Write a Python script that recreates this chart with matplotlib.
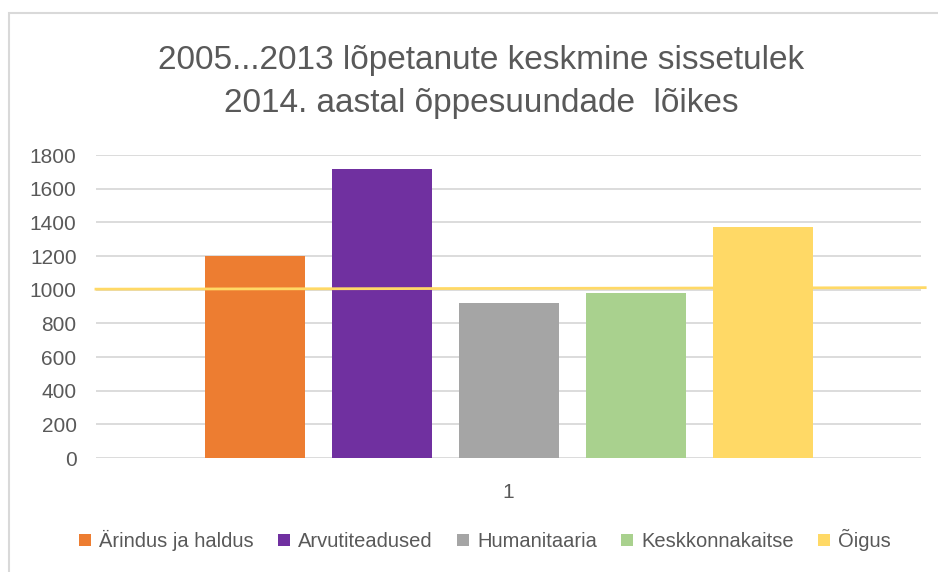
import matplotlib.pyplot as plt
from matplotlib.patches import Rectangle

plt.rcParams['font.family'] = ['Liberation Sans', 'DejaVu Sans']

# data
categories = ['Ärindus ja haldus', 'Arvutiteadused', 'Humanitaaria', 'Keskkonnakaitse', 'Õigus']
values = [1200, 1717, 920, 978, 1372]
colors = ['#ED7D31', '#7030A0', '#A5A5A5', '#A9D18E', '#FFD966']
avg_line = [1003, 1012]
yticks = [0, 200, 400, 600, 800, 1000, 1200, 1400, 1600, 1800]
group_label = '1'
title = '2005...2013 lõpetanute keskmine sissetulek\n2014. aastal õppesuundade  lõikes'

fig = plt.figure(figsize=(9.38, 5.72), dpi=100)
ax = fig.add_axes([0.1023, 0.1993, 0.8800, 0.5297])

# chart border (only top/left visible in the screenshot)
fig.patches.append(Rectangle((9 / 938, -0.1), 1.2, 1 - 13 / 572 + 0.1,
                             transform=fig.transFigure, fill=False,
                             edgecolor='#d9d9d9', lw=1.5))

for i, (c, v, col) in enumerate(zip(categories, values, colors)):
    ax.bar(i, v, width=0.785, color=col, label=c, zorder=2)

ax.set_xlim(-1.25, 5.25)
ax.set_ylim(0, 1800)
ax.plot([-1.25, 5.28], avg_line, color='#FFD966', lw=2, zorder=3, clip_on=False)

ax.set_yticks(yticks)
ax.set_yticklabels([str(t) for t in yticks], fontsize=15, color='#595959')
ax.set_xticks([2])
ax.set_xticklabels([group_label], fontsize=15, color='#595959')
ax.tick_params(axis='both', length=0)
ax.tick_params(axis='y', pad=14)
ax.tick_params(axis='x', pad=18)
ax.grid(axis='y', color='#d9d9d9', lw=1.3, zorder=0)
for s in ax.spines.values():
    s.set_visible(False)

fig.text(0.513, 0.857, title, ha='center', va='center', fontsize=24,
         color='#595959', linespacing=1.5)

fig.legend(loc='center', bbox_to_anchor=(0.517, 0.056), ncol=5, frameon=False,
           fontsize=14.5, handlelength=0.6, handleheight=0.6, handletextpad=0.4,
           columnspacing=1.2, labelcolor='#595959')

fig.savefig('out.png', dpi=100)
